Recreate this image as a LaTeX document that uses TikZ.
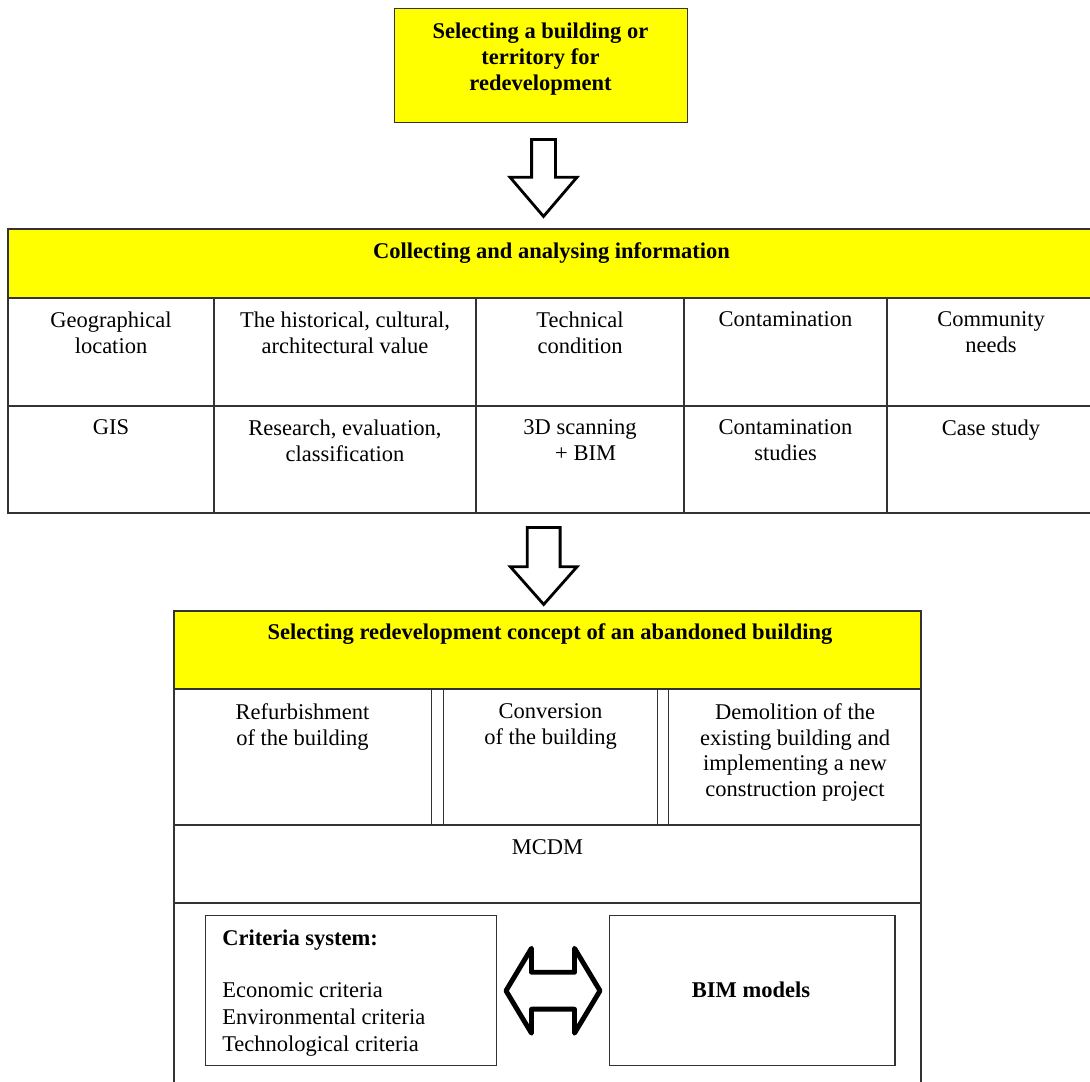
\documentclass[tikz,border=0pt]{standalone}
\usepackage{fontspec}
\setmainfont{Liberation Serif}
\usetikzlibrary{shapes.arrows}
\usetikzlibrary{calc}

\definecolor{brightyellow}{RGB}{255,255,0}

\tikzset{
	frame/.style={draw=black!80, line width=1pt},
	banner/.style={frame, fill=brightyellow},
	txt/.style={align=center, inner sep=0pt, anchor=north, font=\fontsize{16pt}{18.4pt}\selectfont},
	head/.style={txt, font=\fontsize{16pt}{18.4pt}\selectfont\bfseries},
	listtxt/.style={txt, align=left, anchor=north west},
	hollow/.style={single arrow, draw=black, fill=white, line width=2pt, shape border rotate=270, anchor=tail},
}

\begin{document}
\begin{tikzpicture}[x=0.025cm, y=-0.025cm]

	\clip (0,0) rectangle (1090,1081);
	\fill[white] (0,0) rectangle (1090,1081);

	%Selecting the building
	\node[banner, minimum width=7.325cm, minimum height=2.85cm, anchor=north west] (start) at (394,8) {};
	\node[head] (starttxt) at (540.5,22.5) {Selecting a building or\\territory for\\redevelopment};

	\node[hollow, inner sep=0.2625cm, minimum height=1.925cm, single arrow head extend=0.54cm, single arrow tip angle=81] (down1) at (543.5,138) {};

	%Information
	\draw[banner] (8,229) rectangle (1096,298);
	\node[head] (info) at (551.5,242) {Collecting and analysing information};
	\draw[frame] (8,298) rectangle (1096,513);
	\draw[frame] (8,406) -- (1096,406);
	\draw[frame] (214,298) -- (214,513);
	\draw[frame] (476,298) -- (476,513);
	\draw[frame] (684,298) -- (684,513);
	\draw[frame] (887,298) -- (887,513);

	\node[txt] (geo) at (111,311.5) {Geographical\\location};
	\node[txt] (value) at (345,311.5) {The historical, cultural,\\architectural value};
	\node[txt] (tech) at (580,311.5) {Technical\\condition};
	\node[txt] (cont) at (785.5,311.5) {Contamination};
	\node[txt] (needs) at (991,311.5) {Community\\needs};

	\node[txt] (gis) at (111,419.5) {GIS};
	\node[txt] (research) at (345,419.5) {Research, evaluation,\\classification};
	\node[txt] (scan) at (580,419.5) {3D scanning\\\ \ + BIM};
	\node[txt] (contstudy) at (785.5,419.5) {Contamination\\studies};
	\node[txt] (case) at (991,419.5) {Case study};

	\node[hollow, inner sep=0.375cm, minimum height=1.925cm, single arrow head extend=0.425cm, single arrow tip angle=83] (down2) at (543.7,526) {};

	%Concept
	\draw[banner] (174,611) rectangle (921,689);
	\node[head] (concept) at (550,623) {Selecting redevelopment concept of an abandoned building};
	\draw[frame] (174,689) rectangle (431.5,825);
	\draw[frame] (443.5,689) rectangle (657.5,825);
	\draw[frame] (668.5,689) rectangle (921,825);
	\draw[frame] (174,825) rectangle (921,903);
	\draw[frame] (174,903) rectangle (921,1095);

	\node[txt] (refurb) at (302.5,703) {Refurbishment\\of the building};
	\node[txt] (conv) at (550.5,703) {Conversion\\of the building};
	\node[txt] (demol) at (795,703) {Demolition of the\\existing building and\\implementing a new\\construction project};
	\node[txt] (mcdm) at (547.5,839) {MCDM};

	%Criteria and BIM
	\node[frame, minimum width=7.275cm, minimum height=3.75cm, anchor=north west] (crit) at (205,915) {};
	\node[frame, minimum width=7.14cm, minimum height=3.75cm, anchor=north west] (bim) at (608.5,915) {};
	\node[listtxt, font=\fontsize{16pt}{18.4pt}\selectfont\bfseries] (crittitle) at (222,930) {Criteria system:};
	\node[listtxt] (critlist) at (222,982) {Economic criteria\\[1pt]Environmental criteria\\[1pt]Technological criteria};
	\node[head] (bimtxt) at (751,982) {BIM models};

	\node[double arrow, draw=black, fill=white, line width=3.5pt, line join=round, inner sep=0.4cm, minimum height=2.35cm, double arrow head extend=0.6cm, double arrow tip angle=118] (link) at ($(crit.east)!0.5!(bim.west)$) {};

\end{tikzpicture}
\end{document}
